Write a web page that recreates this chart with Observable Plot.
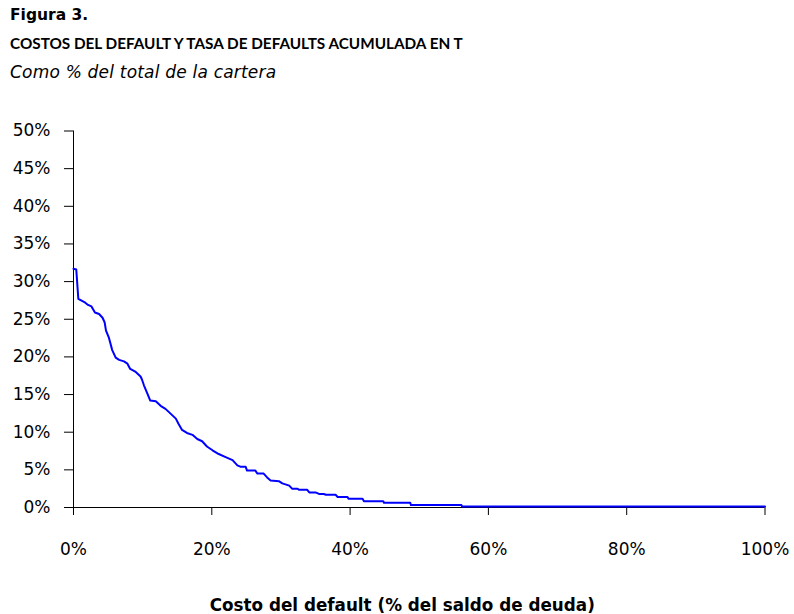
<!DOCTYPE html>
<html>
<head>
<meta charset="utf-8">
<script src="https://cdn.jsdelivr.net/npm/d3@7"></script>
<script src="https://cdn.jsdelivr.net/npm/@observablehq/plot@0.6"></script>
<style>
  html, body { margin: 0; padding: 0; background: #fff; }
  #fig { position: relative; width: 794px; height: 614px; background: #fff; font-family: "DejaVu Sans", sans-serif; color: #000; }
  .hdr { position: absolute; left: 10px; white-space: nowrap; line-height: 1; }
  #t1 { top: 8px; font-weight: bold; font-size: 15.5px; }
  #t2 { top: 36px; font-family: Lato, "DejaVu Sans", sans-serif; font-weight: bold; font-size: 15.3px; }
  #t3 { top: 63.5px; font-style: italic; font-size: 17px; letter-spacing: 0.2px; }
  #chart { position: absolute; left: 0; top: 110px; }
</style>
</head>
<body>
<div id="fig">
  <div class="hdr" id="t1"></div>
  <div class="hdr" id="t2"></div>
  <div class="hdr" id="t3"></div>
  <div id="chart"></div>
</div>
<script>
// Textos
const figLabel = "Figura 3.";
const title = "COSTOS DEL DEFAULT Y TASA DE DEFAULTS ACUMULADA EN T";
const subtitle = "Como % del total de la cartera";
const xTitle = "Costo del default (% del saldo de deuda)";

// Ticks
const xTicks = [0, 20, 40, 60, 80, 100];
const yTicks = [0, 5, 10, 15, 20, 25, 30, 35, 40, 45, 50];

// Serie: costo del default (%) y tasa de defaults acumulada (%)
const costo = [
  0, 0.4, 0.7, 1.3, 1.7, 2.1, 2.6, 3.1, 3.7, 4.2, 4.5, 4.7, 5.1, 5.6, 6.1, 6.6, 7.3, 7.8, 8.2, 9.0,
  9.7, 9.9, 10.2, 10.7, 11.1, 11.9, 12.6, 13.3, 14.0, 14.8, 15.2, 15.7, 16.4, 17.2, 17.9, 18.6, 19.3, 20.1,
  21.0, 22.0, 23.0, 23.7, 24.2, 24.9, 25.1, 26.3, 26.6, 27.5, 28.0, 28.5, 29.7, 30.2, 31.2, 31.6, 32.4,
  32.6, 33.8, 34.1, 35.0, 35.5, 36.2, 36.5, 37.9, 38.2, 39.6, 39.8, 41.8, 42.0, 44.8, 44.9, 48.7, 48.8,
  56.1, 56.2, 100
];
const tasa = [
  31.7, 31.6, 27.7, 27.4, 27.2, 26.9, 26.7, 25.9, 25.7, 25.2, 24.6, 23.5, 22.6, 20.9, 19.9, 19.6, 19.4, 19.1, 18.4, 18.0,
  17.4, 17.0, 16.2, 15.1, 14.2, 14.1, 13.5, 13.1, 12.5, 11.8, 11.1, 10.3, 9.9, 9.65, 9.1, 8.8, 8.1, 7.6,
  7.1, 6.7, 6.3, 5.6, 5.4, 5.4, 4.9, 4.9, 4.5, 4.5, 4.0, 3.6, 3.5, 3.2, 2.9, 2.5, 2.5,
  2.35, 2.35, 2.0, 2.0, 1.8, 1.8, 1.7, 1.7, 1.4, 1.4, 1.15, 1.15, 0.84, 0.84, 0.62, 0.62, 0.32,
  0.32, 0.12, 0.12
];

const data = costo.map((c, i) => ({costo: c, tasa: tasa[i]}));

document.getElementById("t1").textContent = figLabel;
document.getElementById("t2").textContent = title;
document.getElementById("t3").textContent = subtitle;

const pct = d => d + "%";

const chart = Plot.plot({
  width: 794,
  height: 504,
  marginLeft: 73,
  marginRight: 29.5,
  marginTop: 20.5,
  marginBottom: 107,
  style: {fontFamily: "DejaVu Sans, sans-serif", fontSize: "17px", color: "#000", background: "#fff", overflow: "visible"},
  x: {domain: [0, 100]},
  y: {domain: [0, 50]},
  marks: [
    Plot.axisY({ticks: yTicks, tickFormat: pct, tickSize: 9, tickPadding: 14, label: null, fontSize: 17}),
    Plot.axisX({ticks: xTicks, tickFormat: pct, tickSize: 8, tickPadding: 27, label: null, fontSize: 17}),
    Plot.ruleX([0], {stroke: "#000"}),
    Plot.ruleY([0], {stroke: "#000"}),
    Plot.line(data, {x: "costo", y: "tasa", stroke: "#0000ff", strokeWidth: 2}),
    Plot.text([xTitle], {frameAnchor: "bottom", lineAnchor: "middle", dy: 98, dx: -17, fontWeight: "bold", fontSize: 16.8, fill: "#000"})
  ]
});
document.getElementById("chart").appendChild(chart);
</script>
</body>
</html>
